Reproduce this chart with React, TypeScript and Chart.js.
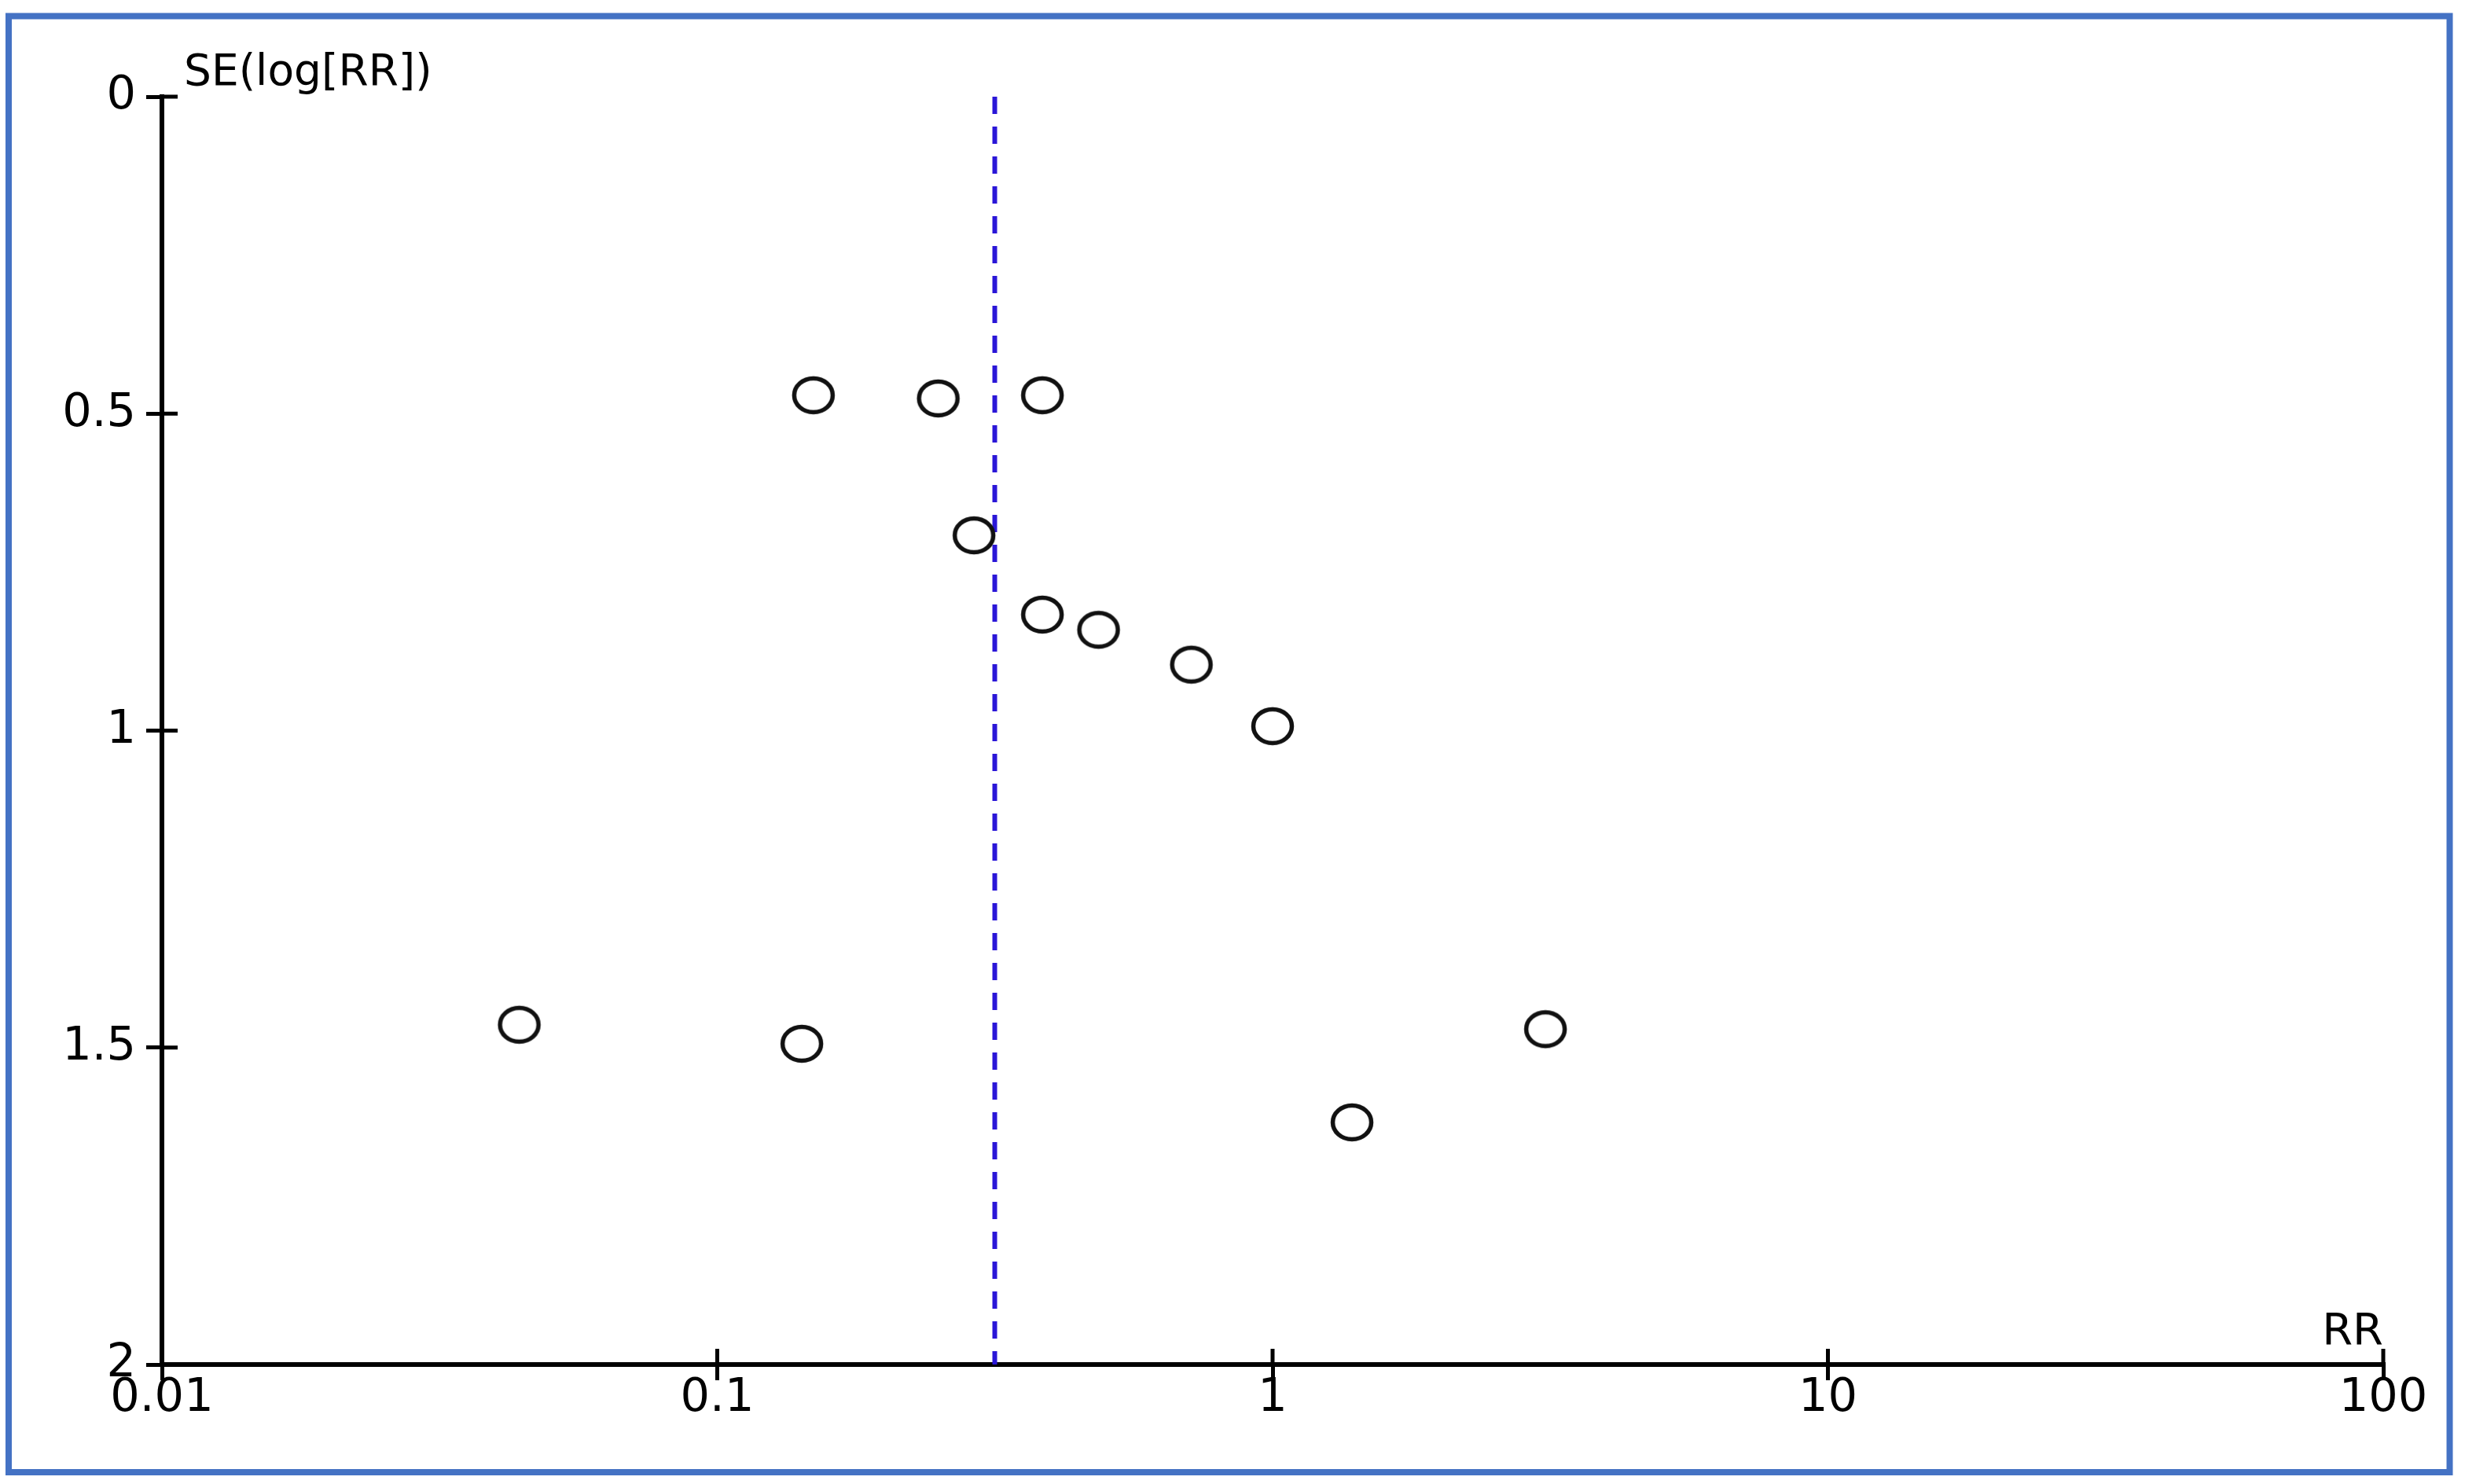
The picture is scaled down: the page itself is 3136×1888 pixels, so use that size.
import React, { useEffect, useRef } from 'react';
import { Chart, registerables } from 'chart.js';

Chart.register(...registerables);

// ---- data ----
const riskRatios = [0.149, 0.25, 0.385, 0.29, 0.385, 0.486, 0.714, 1.0, 0.044, 0.142, 3.1, 1.39];
const standardErrors = [0.471, 0.476, 0.471, 0.692, 0.817, 0.841, 0.896, 0.993, 1.464, 1.494, 1.471, 1.618];
const pooledRR = 0.316;
const pooledLineSE = [0, 2];
const xTicks = [0.01, 0.1, 1, 10, 100];
const xTickLabels = ['0.01', '0.1', '1', '10', '100'];
const yTicks = [0, 0.5, 1, 1.5, 2];
const yTickLabels = ['0', '0.5', '1', '1.5', '2'];
const yTitle = 'SE(log[RR])';
const xTitle = 'RR';

const W = 3136;
const H = 1888;
const FONT = 'DejaVu Sans';

export default function App() {
  const ref = useRef<HTMLCanvasElement | null>(null);

  useEffect(() => {
    const canvas = ref.current;
    if (!canvas) return;

    // open ellipse marker
    const marker = document.createElement('canvas');
    marker.width = 64;
    marker.height = 58;
    const mctx = marker.getContext('2d')!;
    mctx.beginPath();
    mctx.ellipse(32, 29, 24.5, 21.5, 0, 0, Math.PI * 2);
    mctx.lineWidth = 5.5;
    mctx.strokeStyle = '#111';
    mctx.stroke();

    const decorPlugin = {
      id: 'decor',
      afterDraw(chart: any) {
        const { ctx, chartArea, scales } = chart;
        const xs = scales.x;
        const ys = scales.y;
        ctx.save();
        // inner halves of tick marks
        ctx.strokeStyle = '#000';
        ctx.lineWidth = 5;
        ctx.beginPath();
        xTicks.forEach((v) => {
          const px = xs.getPixelForValue(v);
          ctx.moveTo(px, chartArea.bottom);
          ctx.lineTo(px, chartArea.bottom - 20);
        });
        yTicks.forEach((v) => {
          const py = ys.getPixelForValue(v);
          ctx.moveTo(chartArea.left, py);
          ctx.lineTo(chartArea.left + 20, py);
        });
        ctx.stroke();

        // axis titles
        ctx.fillStyle = '#000';
        ctx.font = `55px "${FONT}"`;
        ctx.textAlign = 'left';
        ctx.textBaseline = 'alphabetic';
        ctx.fillText(yTitle, chartArea.left + 28, chartArea.top - 15);
        ctx.font = `56px "${FONT}"`;
        ctx.textAlign = 'right';
        ctx.fillText(xTitle, chartArea.right, chartArea.bottom - 26);

        // blue frame
        ctx.strokeStyle = '#4472C4';
        ctx.lineWidth = 8;
        ctx.strokeRect(11, 20.5, 3105.5, 1852.5);
        ctx.restore();
      },
    };

    const chart = new Chart(canvas, {
      data: {
        datasets: [
          {
            type: 'scatter',
            data: riskRatios.map((rr, i) => ({ x: rr, y: standardErrors[i] })),
            pointStyle: marker as any,
            pointRadius: 24,
            order: 1,
          },
          {
            type: 'line',
            data: pooledLineSE.map((se) => ({ x: pooledRR, y: se })),
            borderColor: '#2a16d8',
            borderWidth: 6,
            borderDash: [22, 16],
            pointRadius: 0,
            fill: false,
            order: 2,
          },
        ],
      } as any,
      options: {
        responsive: false,
        animation: false,
        devicePixelRatio: 1,
        layout: { padding: { left: 0, top: 123, right: W - 3032, bottom: 0 } },
        plugins: { legend: { display: false }, tooltip: { enabled: false } },
        scales: {
          x: {
            type: 'logarithmic',
            position: 'bottom',
            min: 0.01,
            max: 100,
            afterBuildTicks: (s: any) => {
              s.ticks = xTicks.map((v) => ({ value: v }));
            },
            afterFit: (s: any) => {
              s.height = H - 1736;
              s.paddingLeft = 0;
              s.paddingRight = 0;
              s.paddingTop = 0;
              s.paddingBottom = 0;
            },
            ticks: {
              autoSkip: false,
              maxRotation: 0,
              minRotation: 0,
              padding: -6,
              color: '#000',
              font: { family: FONT, size: 59, lineHeight: 1 },
              callback: (_v: any, i: number) => xTickLabels[i],
            },
            grid: {
              display: true,
              drawOnChartArea: false,
              drawTicks: true,
              tickLength: 20,
              tickWidth: 5,
              tickColor: '#000',
              color: '#000',
              lineWidth: 5,
            },
            border: { display: true, color: '#000', width: 6 },
          },
          y: {
            type: 'linear',
            position: 'left',
            reverse: true,
            min: 0,
            max: 2,
            afterBuildTicks: (s: any) => {
              s.ticks = yTicks.map((v) => ({ value: v }));
            },
            afterFit: (s: any) => {
              s.width = 206;
              s.paddingLeft = 0;
              s.paddingRight = 0;
              s.paddingTop = 0;
              s.paddingBottom = 0;
            },
            ticks: {
              autoSkip: false,
              padding: 13,
              color: '#000',
              font: { family: FONT, size: 59, lineHeight: 1 },
              callback: (_v: any, i: number) => yTickLabels[i],
            },
            grid: {
              display: true,
              drawOnChartArea: false,
              drawTicks: true,
              tickLength: 20,
              tickWidth: 5,
              tickColor: '#000',
              color: '#000',
              lineWidth: 5,
            },
            border: { display: true, color: '#000', width: 6 },
          },
        },
      } as any,
      plugins: [decorPlugin],
    });

    return () => chart.destroy();
  }, []);

  return (
    <canvas
      ref={ref}
      width={W}
      height={H}
      style={{ position: 'absolute', left: 0, top: 0, width: W, height: H, display: 'block', background: '#fff' }}
    />
  );
}
